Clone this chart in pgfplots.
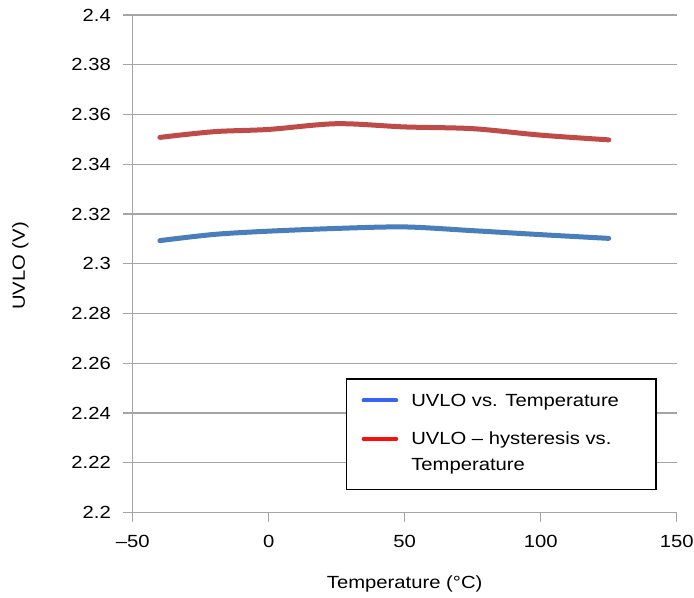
\documentclass[border=0pt]{standalone}
\usepackage{fontspec}
\setmainfont{Liberation Sans}[FakeStretch=1.15]
\usepackage{pgfplots}
\pgfplotsset{compat=1.18}
\definecolor{bline}{RGB}{74,126,187}
\definecolor{rline}{RGB}{190,75,72}
\definecolor{bleg}{RGB}{55,100,245}
\definecolor{rleg}{RGB}{250,15,15}
\definecolor{gridc}{RGB}{165,165,165}
\newcommand\f{\fontsize{17.6bp}{20bp}\selectfont}
\begin{document}
\begin{tikzpicture}
\begin{axis}[
  scale only axis, width=544bp, height=497.5bp,
  xmin=-50, xmax=150, ymin=2.2, ymax=2.4,
  axis lines=left, axis line style={-, gridc, line width=1.2bp},
  xtick={-50,0,50,100,150}, xticklabels={–50,0,50,100,150},
  ytick={2.2,2.22,2.24,2.26,2.28,2.3,2.32,2.34,2.36,2.38,2.4},
  yticklabels={2.2,2.22,2.24,2.26,2.28,2.3,2.32,2.34,2.36,2.38,2.4},
  tick align=outside, major tick length=9.5bp,
  tick style={gridc, line width=1.2bp},
  ymajorgrids, major grid style={gridc, line width=1.2bp},
  tick label style={font=\f, inner sep=0pt},
  /pgf/number format/assume math mode=true,
  xticklabel shift=13bp, yticklabel shift=12.2bp,
  xlabel={Temperature (°C)}, ylabel={UVLO (V)},
  label style={font=\f, inner sep=0pt},
  xlabel style={at={(axis description cs:0.5,-0.1518)}, anchor=base},
  ylabel style={at={(axis description cs:-0.198,0.4957)}, anchor=base},
  legend image code/.code={\draw[#1] (0bp,6.1bp) -- (32.7bp,6.1bp);},
  legend style={at={(0.3915,0.2697)}, anchor=north west, draw=black, line width=1.2bp,
    inner xsep=15.3bp, inner ysep=15.35bp, column sep=13bp, row sep=22bp,
    cells={anchor=base west}, nodes={inner sep=0pt, text depth=},
    font=\fontsize{17.6bp}{25.5bp}\selectfont},
]
\addplot[bline, line width=5bp, smooth, line join=round, line cap=round, forget plot] coordinates {
(-40,2.3093) (-20,2.3118) (0,2.3131) (25,2.3142) (50,2.3148) (75,2.3133) (100,2.3117) (125,2.3102)};
\addplot[rline, line width=5bp, smooth, line join=round, line cap=round, forget plot] coordinates {
(-40,2.3508) (-20,2.3531) (0,2.3540) (25,2.3563) (50,2.3550) (75,2.3543) (100,2.3517) (125,2.3498)};
\addlegendimage{bleg, line width=4bp, line cap=round}
\addlegendentry{\parbox[t]{229.5bp}{UVLO vs. Temperature}}
\addlegendimage{rleg, line width=4bp, line cap=round}
\addlegendentry{\parbox[t]{229.5bp}{UVLO – hysteresis vs.\\Temperature}}
\coordinate (ll) at (rel axis cs:0,0);
\coordinate (ur) at (rel axis cs:1,1);
\end{axis}
\pgfresetboundingbox
\path[use as bounding box] ([shift={(-132.7bp,-85.5bp)}]ll) rectangle ([shift={(17.3bp,15bp)}]ur);
\end{tikzpicture}
\end{document}
